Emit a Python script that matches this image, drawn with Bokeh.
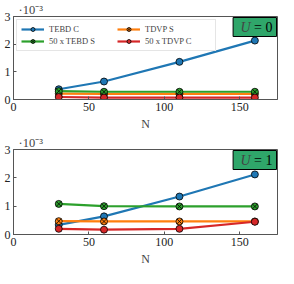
from bokeh.plotting import figure
from bokeh.layouts import column
from bokeh.models import Range1d, Label, Legend, LegendItem, FixedTicker
from bokeh.embed import file_html
from bokeh.resources import INLINE

N = [30, 60, 110, 160]
# values in units of 1e-3
u0_tebd_c = [0.37, 0.65, 1.36, 2.13]
u0_tdvp_s = [0.21, 0.20, 0.20, 0.20]
u0_tebd_s50 = [0.30, 0.28, 0.28, 0.28]
u0_tdvp_c50 = [0.09, 0.07, 0.07, 0.07]
u1_tebd_c = [0.34, 0.64, 1.34, 2.12]
u1_tdvp_s = [0.47, 0.46, 0.46, 0.46]
u1_tebd_s50 = [1.08, 1.00, 0.99, 0.99]
u1_tdvp_c50 = [0.20, 0.17, 0.20, 0.45]
series_names = ["TEBD C", "TDVP S", "50 x TEBD S", "50 x TDVP C"]
x_ticks = [0, 50, 100, 150]
y_ticks = [0, 1, 2, 3]

colors = ["#1f77b4", "#ff7f0e", "#2ca02c", "#d62728"]
markers = ["circle", "circle_x", "circle_x", "circle"]
FONT = "Liberation Serif"
AX = "#555555"
BOXC = "#2fa66a"


def make_panel(vals, tag, h, bottom, legend):
    p = figure(width=278, height=h, output_backend="svg", toolbar_location=None,
               x_range=Range1d(0, 175), y_range=Range1d(0, 3),
               min_border_left=13, min_border_right=1,
               min_border_top=0, min_border_bottom=bottom,
               title="·10⁻³")
    p.title.text_font = FONT
    p.title.text_font_size = "12.5px"
    p.title.text_font_style = "normal"
    p.title.align = "left"
    p.title.offset = 5
    p.title.standoff = 0
    p.xgrid.visible = False
    p.ygrid.visible = False
    p.outline_line_color = AX
    p.outline_line_width = 1
    for ax in (p.xaxis[0], p.yaxis[0]):
        ax.axis_line_color = AX
        ax.major_tick_line_color = AX
        ax.minor_tick_line_color = None
        ax.major_tick_in = 3
        ax.major_tick_out = 0
        ax.major_label_text_font = FONT
        ax.major_label_text_font_size = "12px"
        ax.major_label_text_color = "#222222"
        ax.axis_label_text_font = FONT
        ax.axis_label_text_font_size = "12px"
        ax.axis_label_text_font_style = "normal"
    p.xaxis.ticker = FixedTicker(ticks=x_ticks)
    p.yaxis.ticker = FixedTicker(ticks=y_ticks)
    p.xaxis.axis_label = "N"
    p.xaxis.axis_label_standoff = 3
    p.xaxis.major_label_standoff = 3
    p.yaxis.major_label_standoff = 3
    items = []
    for name, ys, c, m in zip(series_names, vals, colors, markers):
        r1 = p.line(N, ys, line_color=c, line_width=2.2)
        r2 = p.scatter(N, ys, marker=m, size=7, fill_color=c, line_color="black",
                       line_width=0.8)
        items.append(LegendItem(label=name, renderers=[r1, r2]))
    if legend:
        order = [items[0], items[2], items[1], items[3]]
        lg = Legend(items=order, location="top_left", ncols=2,
                    label_text_font=FONT, label_text_font_size="8.5px",
                    label_standoff=5, glyph_width=23, glyph_height=10,
                    label_height=10, label_width=66, spacing=2, padding=4,
                    margin=3, border_line_color="#cccccc",
                    background_fill_alpha=1.0)
        p.add_layout(lg)
    box = Label(x=175, y=3, x_offset=-1, y_offset=-1, text="= " + tag,
                text_font=FONT, text_font_size="14px", text_color="black",
                text_baseline="top", text_align="right",
                background_fill_color=BOXC, border_line_color="black",
                border_line_width=1, padding=(21, 4, 2, 2))
    p.add_layout(box)
    p.add_layout(Label(x=175, y=3, x_offset=-27, y_offset=-3, text="U",
                       text_font=FONT, text_font_size="14px",
                       text_font_style="italic",
                       text_baseline="top", text_align="right"))
    return p


p1 = make_panel([u0_tebd_c, u0_tdvp_s, u0_tebd_s50, u0_tdvp_c50], "0",
                133, 32, True)
p2 = make_panel([u1_tebd_c, u1_tdvp_s, u1_tebd_s50, u1_tdvp_c50], "1",
                135, 33, False)

lay = column(p1, p2, spacing=0)
open("out.html", "w").write(file_html(lay, INLINE))
